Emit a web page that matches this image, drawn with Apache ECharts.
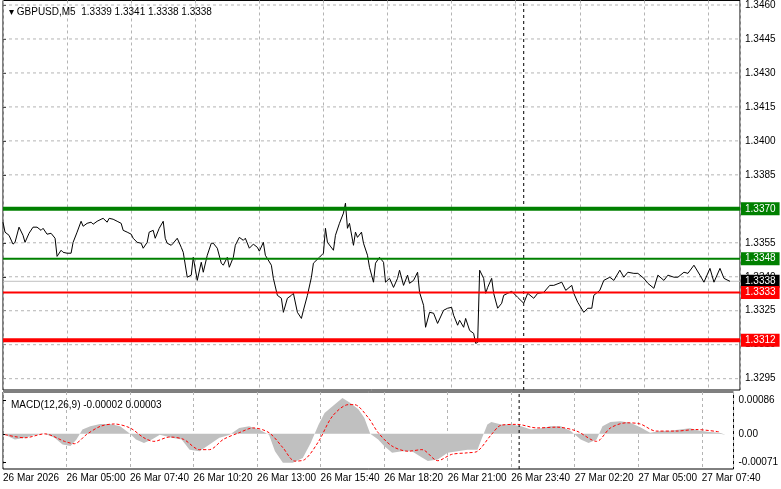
<!DOCTYPE html>
<html>
<head>
<meta charset="utf-8">
<script src="https://cdn.jsdelivr.net/npm/echarts@6/dist/echarts.min.js"></script>
<style>html,body{margin:0;padding:0;background:#fff}#container{width:781px;height:489px}</style>
</head>
<body>
<div id="container"></div>
<script>
// bar index (5 min bars) / price
var priceIdx = [0,1,3,5,6,8,10,11,13,15,17,19,20,22,24,26,27,29,30,32,34,35,37,39,40,42,44,45,47,49,50,52,53,55,57,59,60,62,64,65,67,69,70,72,73,75,76,78,80,81,82,84,85,87,89,90,92,94,95,97,99,100,102,104,105,107,109,110,112,113,115,116,118,120,121,123,125,127,128,130,131,134,135,137,139,140,142,144,145,147,149,150,152,154,155,158,160,161,162,165,166,168,170,171,172,173,175,176,177,179,180,182,183,185,186,188,190,191,193,195,197,198,200,202,203,205,207,208,210,211,213,215,217,220,222,224,225,227,228,230,231,233,235,236,237,238,240,241,242,244,245,247,249,250,252,254,257,260,262,265,267,270,273,275,279,281,284,285,287,290,292,294,295,298,300,303,305,308,310,312,315,317,320,322,325,327,330,332,335,337,340,342,345,348,350,353,355,358,360,362,363];
var priceVal = [1.33641,1.33597,1.33583,1.33544,1.33552,1.33619,1.33583,1.33552,1.33592,1.33619,1.33619,1.33605,1.33614,1.33588,1.33592,1.33570,1.33490,1.33517,1.33508,1.33504,1.33504,1.33552,1.33597,1.33645,1.33623,1.33636,1.33641,1.33632,1.33645,1.33654,1.33658,1.33641,1.33658,1.33654,1.33645,1.33636,1.33605,1.33597,1.33588,1.33570,1.33552,1.33548,1.33526,1.33552,1.33597,1.33605,1.33570,1.33614,1.33645,1.33570,1.33548,1.33539,1.33548,1.33570,1.33530,1.33508,1.33398,1.33407,1.33486,1.33384,1.33464,1.33420,1.33495,1.33548,1.33548,1.33526,1.33460,1.33451,1.33486,1.33442,1.33486,1.33539,1.33574,1.33561,1.33570,1.33526,1.33544,1.33530,1.33513,1.33552,1.33495,1.33451,1.33393,1.33318,1.33305,1.33243,1.33305,1.33318,1.33327,1.33243,1.33216,1.33252,1.33318,1.33398,1.33460,1.33486,1.33504,1.33614,1.33552,1.33517,1.33583,1.33636,1.33681,1.33725,1.33614,1.33636,1.33539,1.33597,1.33574,1.33597,1.33548,1.33495,1.33442,1.33376,1.33460,1.33486,1.33464,1.33376,1.33393,1.33353,1.33393,1.33429,1.33362,1.33407,1.33371,1.33384,1.33420,1.33331,1.33274,1.33177,1.33243,1.33239,1.33194,1.33252,1.33261,1.33265,1.33230,1.33186,1.33208,1.33177,1.33216,1.33163,1.33150,1.33106,1.33110,1.33429,1.33393,1.33327,1.33353,1.33393,1.33327,1.33261,1.33283,1.33318,1.33327,1.33336,1.33309,1.33283,1.33327,1.33305,1.33327,1.33331,1.33362,1.33362,1.33376,1.33340,1.33362,1.33327,1.33287,1.33243,1.33261,1.33261,1.33318,1.33340,1.33384,1.33398,1.33384,1.33429,1.33398,1.33420,1.33415,1.33415,1.33393,1.33371,1.33349,1.33407,1.33384,1.33407,1.33398,1.33398,1.33420,1.33415,1.33451,1.33407,1.33376,1.33437,1.33376,1.33437,1.33393,1.33384,1.33380];

var histIdx = [1,6,11,16,21,26,30,34,37,40,44,49,54,59,64,67,71,75,79,85,90,94,99,104,109,114,119,124,129,134,137,141,146,151,155,159,162,166,171,175,179,182,185,189,192,196,201,206,210,214,219,224,229,234,239,241,244,246,251,256,261,266,271,276,281,286,291,295,299,302,306,311,316,321,326,331,336,341,346,351,356,361,364];
var histVal = [-0.00002,-0.00014,-0.0001,-0.00003,0,-0.0001,-0.00027,-0.00031,-0.00014,0.00011,0.00019,0.00025,0.00025,0.00019,0,-0.00014,-0.00023,-0.00014,-0.00002,-0.0001,-0.00014,-0.0004,-0.00044,-0.00027,-0.0001,-0.00003,0.00015,0.00019,0.00011,-0.00002,-0.00044,-0.00073,-0.00073,-0.00061,-0.00023,0.00024,0.00053,0.0007,0.00091,0.00078,0.00062,0.00041,0,-0.00014,-0.00031,-0.00048,-0.00044,-0.00044,-0.00057,-0.00069,-0.00065,-0.00048,-0.00044,-0.0004,-0.0004,-0.00014,0.00024,0.0003,0.00024,0.00024,0.00019,0.00011,0.00014,0.00019,0.00019,0.00007,-0.00014,-0.00023,-0.00014,0.00019,0.0003,0.00032,0.00028,0.00017,0.00003,0.00007,0.00008,0.00011,0.00014,0.00008,0.00005,0.00003,-0.00002];

var signalIdx = [1,11,21,31,36,42,49,56,64,71,76,84,91,99,104,111,119,126,134,141,147,152,159,166,174,177,184,189,196,204,211,219,226,234,239,246,251,259,269,279,289,299,306,314,321,329,339,349,361];
var signalVal = [-0.00002,-0.0001,0,-0.00019,-0.00025,-0.00002,0.00019,0.00025,0.00015,-0.0001,-0.00019,-0.00008,-0.00014,-0.0004,-0.0004,-0.00014,0.00003,0.00015,0.00003,-0.00035,-0.00069,-0.00065,-0.00019,0.00045,0.00074,0.00074,0.00041,0.00003,-0.00031,-0.00044,-0.0004,-0.00068,-0.00052,-0.00048,-0.00044,-0.00002,0.00022,0.00024,0.00015,0.00017,0.00007,-0.00019,0.00015,0.00028,0.00025,0.00007,0.00007,0.00011,0.00005];

var timeLabels = ['26 Mar 2026','26 Mar 05:00','26 Mar 07:40','26 Mar 10:20','26 Mar 13:00','26 Mar 15:40','26 Mar 18:20','26 Mar 21:00','26 Mar 23:40','27 Mar 02:20','27 Mar 05:00','27 Mar 07:40'];
var priceTicks = [1.3295,1.3310,1.3325,1.3340,1.3355,1.3370,1.3385,1.3400,1.3415,1.3430,1.3445,1.3460];
var macdTicks = [-0.00071,0,0.00086];
var levelVals = [1.3370, 1.3348, 1.3333, 1.3312];
var levelColors = ['#008000', '#008000', '#ff0000', '#ff0000'];
var levelWidths = [4, 2, 2, 4];
var lastPrice = 1.3338;
var cursorIdx = 260;
var barsMax = 368;

var chart = echarts.init(document.getElementById('container'));
var font = 'Liberation Sans';

function zip(a,b){ return a.map(function(x,i){ return [x,b[i]]; }); }

// horizontal line series with a price box at the right end
function hLine(v, color, width, boxColor, z){
  return {type:'line', xAxisIndex:0, yAxisIndex:0, symbol:'none', silent:true, z:z,
    data:[[0,v],[barsMax,v]], lineStyle:{color:color, width:width},
    endLabel:{show:true, formatter:v.toFixed(4), color:'#fff', backgroundColor:boxColor,
      padding:[2,4,1,4], fontSize:10, fontFamily:font, distance:1}};
}

var gridData = [];
priceTicks.forEach(function(v){ gridData.push([0,v],[barsMax,v],null); });

var xBase = {
  type:'value', min:0, max:barsMax, interval:32,
  axisLine:{show:false}, axisTick:{show:false},
  splitLine:{show:true, lineStyle:{color:'#b4b4b4', type:[3,3], width:1}}
};

var series = [
  {type:'line', xAxisIndex:0, yAxisIndex:0, data:gridData, symbol:'none', silent:true, z:1,
    connectNulls:false, lineStyle:{color:'#b4b4b4', width:1, type:[3,3]}},
  {type:'line', xAxisIndex:0, yAxisIndex:0, data:[[cursorIdx,1.3290],[cursorIdx,1.3462]], symbol:'none', z:2,
    lineStyle:{color:'#000', width:1, type:[3,3]}},
  hLine(lastPrice, '#c0c0c0', 1, '#000', 2)
];
levelVals.forEach(function(v,i){ series.push(hLine(v, levelColors[i], levelWidths[i], levelColors[i], 4)); });
series.push(
  {type:'line', xAxisIndex:0, yAxisIndex:0, data:zip(priceIdx, priceVal), symbol:'none',
    lineStyle:{color:'#000', width:1}, z:3},
  {type:'line', xAxisIndex:1, yAxisIndex:1, data:zip(histIdx, histVal), symbol:'none',
    lineStyle:{width:0}, areaStyle:{color:'#c0c0c0', opacity:1, origin:0}},
  {type:'line', xAxisIndex:1, yAxisIndex:1, data:[[cursorIdx,-0.00089],[cursorIdx,0.00106]], symbol:'none',
    lineStyle:{color:'#000', width:1, type:[3,3]}},
  {type:'line', xAxisIndex:1, yAxisIndex:1, data:zip(signalIdx, signalVal), symbol:'none', smooth:0.3,
    lineStyle:{color:'#ff0000', width:1, type:[3,2]}}
);

option = {
  animation:false,
  backgroundColor:'#fff',
  title:[
    {text:'▾ GBPUSD,M5  1.3339 1.3341 1.3338 1.3338', left:4, top:2,
      textStyle:{fontSize:10, fontWeight:'normal', color:'#000', fontFamily:font}},
    {text:'MACD(12,26,9) -0.00002 0.00003', left:6, top:395,
      textStyle:{fontSize:10, fontWeight:'normal', color:'#000', fontFamily:font}}
  ],
  grid:[
    {left:3, right:41, top:0, height:390, show:true, borderColor:'#000', borderWidth:1},
    {left:3, right:41, top:392, height:77, show:true, borderColor:'#000', borderWidth:1}
  ],
  xAxis:[
    Object.assign({gridIndex:0, axisLabel:{show:false}}, xBase),
    Object.assign({gridIndex:1, axisLabel:{show:true, align:'left', margin:4, fontSize:10, color:'#000', fontFamily:font,
      formatter:function(v){ return timeLabels[Math.round(v/32)] || ''; }}}, xBase)
  ],
  yAxis:[
    {type:'value', gridIndex:0, position:'right', min:1.3290, max:1.3462,
      axisLine:{show:false}, splitLine:{show:false},
      axisTick:{show:true, length:3, lineStyle:{color:'#000'}, customValues:priceTicks},
      axisLabel:{customValues:priceTicks, formatter:function(v){return v.toFixed(4);}, fontSize:10, color:'#000', fontFamily:font, margin:5}},
    {type:'value', gridIndex:1, position:'right', min:-0.00089, max:0.00106,
      axisLine:{show:false}, splitLine:{show:false},
      axisTick:{show:true, length:3, lineStyle:{color:'#000'}, customValues:macdTicks},
      axisLabel:{customValues:macdTicks, formatter:function(v){return v===0?'0.00':v.toFixed(5);}, fontSize:10, color:'#000', fontFamily:font, margin:5}}
  ],
  series:series
};
chart.setOption(option);
</script>
</body>
</html>
